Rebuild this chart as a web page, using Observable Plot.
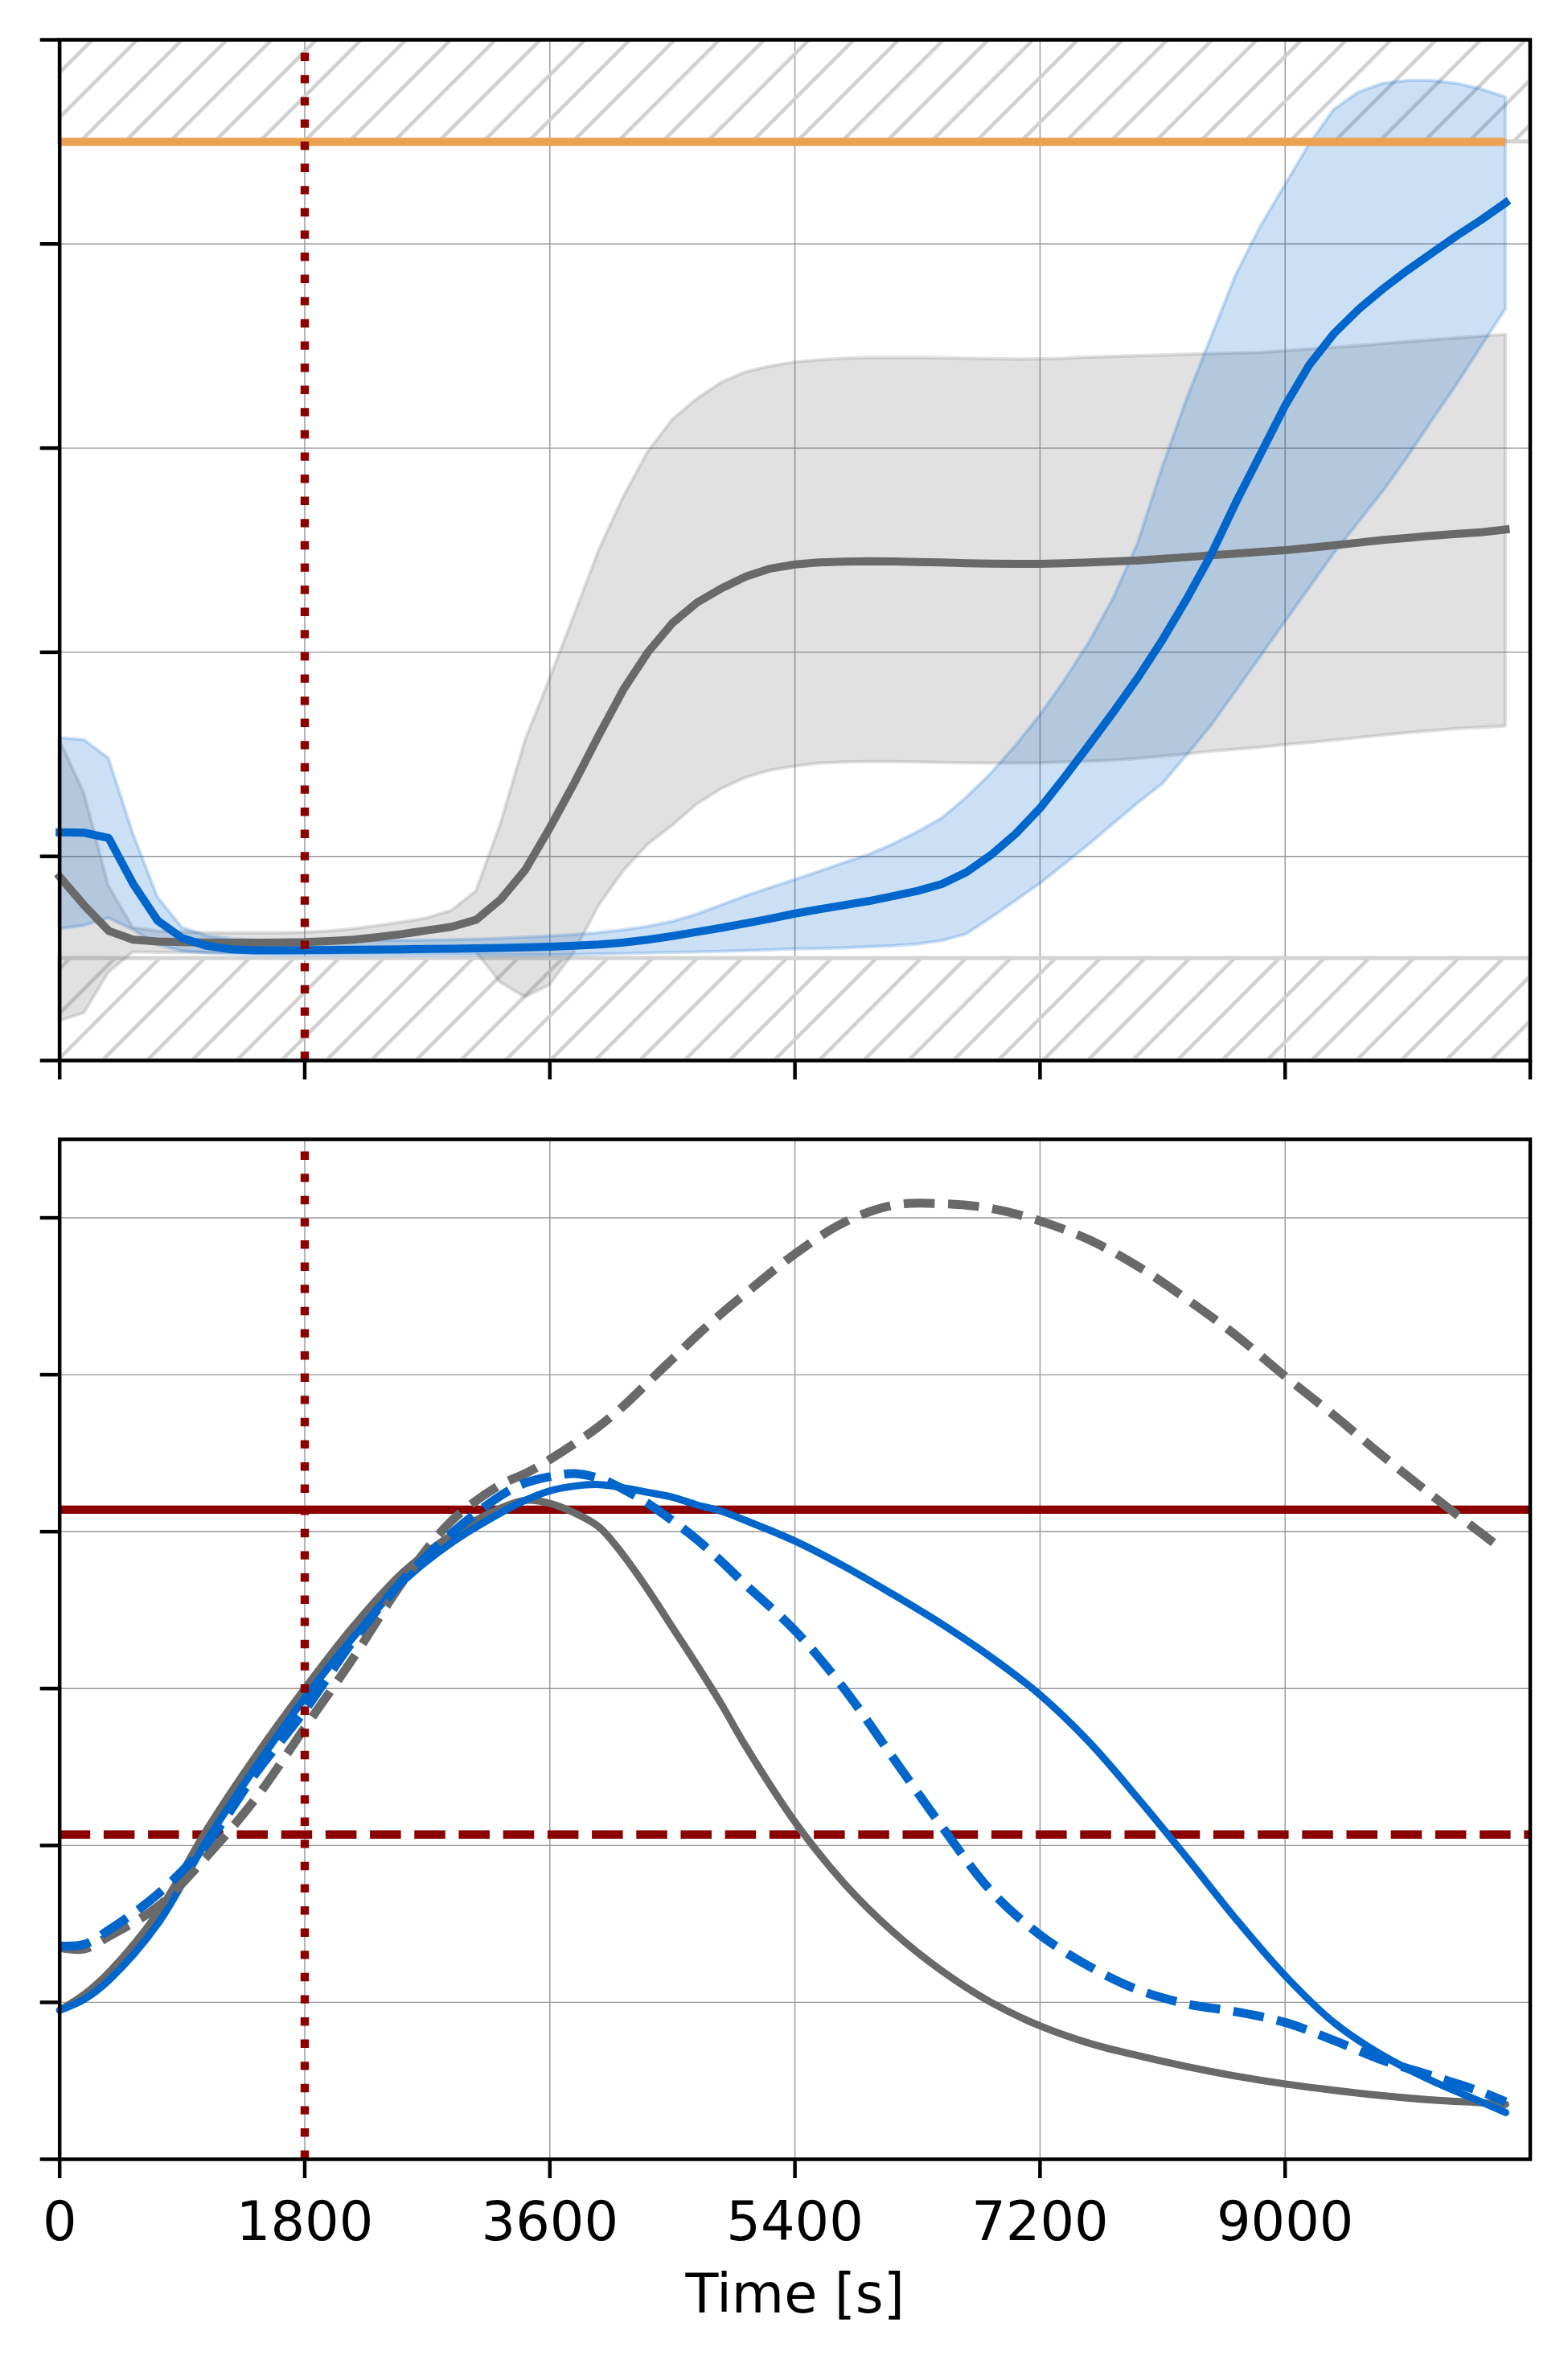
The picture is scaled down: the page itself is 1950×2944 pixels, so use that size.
<!DOCTYPE html>
<html>
<head>
<meta charset="utf-8">
<script src="https://cdn.jsdelivr.net/npm/d3@7"></script>
<script src="https://cdn.jsdelivr.net/npm/@observablehq/plot@0.6"></script>
<style>
  html, body { margin: 0; padding: 0; background: #ffffff; }
  #chart { width: 1950px; }
  #chart svg { display: block; }
</style>
</head>
<body>
<svg width="0" height="0" style="position:absolute">
  <defs>
    <pattern id="hatch" patternUnits="userSpaceOnUse" width="55.7" height="55.7">
      <path d="M-8,5.3 L5.3,-8 M-8,61 L61,-8 M45,63.7 L63.7,45" stroke="#d0d0d0" stroke-width="4.6" fill="none"/>
    </pattern>
  </defs>
</svg>
<div id="chart"></div>
<script>
// ---------- top panel data (sampled every 180 s) ----------
const times = [0,180,360,540,720,900,1080,1260,1440,1620,1800,1980,2160,2340,2520,2700,2880,3060,3240,3420,
  3600,3780,3960,4140,4320,4500,4680,4860,5040,5220,5400,5580,5760,5940,6120,6300,6480,6660,6840,7020,
  7200,7380,7560,7740,7920,8100,8280,8460,8640,8820,9000,9180,9360,9540,9720,9900,10080,10260,10440,10620];
const blueMean = [11.18,11.16,10.9,8.65,6.85,6.0,5.62,5.45,5.40,5.40,5.41,5.42,5.43,5.44,5.45,5.47,5.48,5.50,5.52,5.55,
  5.58,5.62,5.68,5.78,5.92,6.1,6.3,6.5,6.72,6.95,7.2,7.41,7.61,7.81,8.05,8.31,8.65,9.23,10.07,11.1,
  12.36,13.88,15.46,17.08,18.77,20.62,22.64,24.83,27.36,29.72,32.08,34.1,35.62,36.8,37.81,38.72,39.56,40.4,41.18,42.02];
const blueHigh = [15.8,15.7,14.8,11.1,8.0,6.5,6.1,5.95,5.88,5.85,5.85,5.85,5.85,5.86,5.87,5.88,5.9,5.93,5.97,6.02,
  6.08,6.15,6.25,6.38,6.55,6.8,7.15,7.6,8.05,8.45,8.85,9.25,9.67,10.07,10.58,11.18,11.86,12.87,14.05,15.4,
  16.9,18.6,20.45,22.64,25.34,29.05,32.41,35.45,38.48,40.84,42.87,44.89,46.57,47.42,47.85,47.99,47.99,47.85,47.58,47.18];
const blueLow = [6.45,6.6,6.97,6.4,5.66,5.35,5.25,5.2,5.17,5.15,5.15,5.15,5.15,5.15,5.15,5.15,5.15,5.15,5.15,5.15,
  5.16,5.17,5.2,5.22,5.25,5.28,5.3,5.33,5.36,5.4,5.45,5.47,5.5,5.55,5.6,5.69,5.85,6.19,6.97,7.81,
  8.65,9.6,10.57,11.59,12.6,13.54,14.96,16.41,18.09,19.78,21.47,23.15,24.83,26.35,27.87,29.55,31.34,33.09,34.95,36.8];
const grayMean = [9.0,7.6,6.35,5.92,5.83,5.8,5.78,5.77,5.77,5.78,5.8,5.85,5.92,6.05,6.2,6.38,6.55,6.9,7.9,9.35,
  11.4,13.6,15.94,18.17,20.0,21.43,22.43,23.13,23.71,24.1,24.3,24.4,24.44,24.46,24.45,24.42,24.4,24.36,24.34,24.33,
  24.33,24.36,24.4,24.45,24.5,24.58,24.66,24.75,24.83,24.92,25.0,25.12,25.24,25.37,25.5,25.6,25.71,25.8,25.88,26.01];
const grayHigh = [15.7,13.1,8.55,6.5,6.33,6.28,6.25,6.24,6.24,6.24,6.27,6.33,6.44,6.6,6.77,6.97,7.34,8.3,11.6,15.68,
  18.69,21.8,24.97,27.58,29.8,31.37,32.4,33.2,33.72,34.0,34.2,34.3,34.38,34.41,34.41,34.41,34.4,34.38,34.36,34.34,
  34.35,34.38,34.44,34.47,34.51,34.54,34.58,34.61,34.64,34.67,34.75,34.84,34.92,35.0,35.1,35.2,35.29,35.38,35.47,35.55];
const grayLow = [1.93,2.32,4.3,5.3,5.28,5.27,5.27,5.27,5.27,5.27,5.27,5.27,5.28,5.28,5.29,5.3,5.3,5.3,3.8,3.1,
  3.7,5.3,7.57,9.27,10.58,11.5,12.54,13.3,13.85,14.2,14.4,14.55,14.6,14.62,14.62,14.6,14.58,14.56,14.55,14.55,
  14.56,14.6,14.64,14.69,14.78,14.89,15.0,15.13,15.23,15.33,15.45,15.56,15.68,15.8,15.92,16.04,16.14,16.24,16.3,16.37];
const forbiddenLow = [0, 5];     // lower hatched band
const forbiddenHigh = [45, 50];  // upper hatched band
const upperLimit = 45;           // orange limit line

// ---------- bottom panel data ----------
const bTimes = [0,180,360,720,1080,1440,1800,2160,2520,2880,3240,3420,3600,3780,3960,4140,4320,4500,4680,4860,
  5040,5400,5760,6120,6480,6840,7200,7560,7920,8280,8640,9000,9360,9720,10080,10440,10620];
const graySolid = [0.95,1.05,1.19,1.57,2.1,2.57,3.0,3.4,3.74,3.98,4.15,4.2,4.18,4.12,4.03,3.85,3.63,3.39,3.15,2.9,
  2.63,2.15,1.76,1.45,1.2,1.0,0.85,0.74,0.66,0.59,0.53,0.48,0.44,0.405,0.378,0.36,0.35];
const blueSolid = [0.95,1.02,1.14,1.5,2.03,2.5,2.94,3.33,3.68,3.93,4.12,4.2,4.26,4.29,4.3,4.28,4.25,4.22,4.17,4.13,
  4.07,3.94,3.78,3.6,3.41,3.2,2.96,2.66,2.3,1.92,1.53,1.17,0.87,0.66,0.5,0.366,0.298];
const blueDashed = [1.36,1.37,1.46,1.69,2.01,2.46,2.86,3.31,3.69,3.99,4.23,4.31,4.35,4.37,4.34,4.27,4.18,4.07,3.95,3.81,
  3.66,3.37,3.0,2.56,2.12,1.71,1.43,1.23,1.08,0.99,0.94,0.872,0.757,0.63,0.532,0.43,0.366];
const grayDashedTimes = [0,180,360,720,1080,1440,1800,2160,2520,2880,3240,3420,3600,3780,3960,4140,4320,4500,4680,4860,
  5040,5400,5760,6120,6480,6840,7200,7560,7920,8280,8640,9000,9360,9720,10080,10440,10530];
const grayDashed = [1.35,1.34,1.42,1.61,1.93,2.3,2.75,3.2,3.68,4.07,4.3,4.37,4.46,4.56,4.67,4.8,4.95,5.1,5.25,5.39,
  5.52,5.77,5.97,6.08,6.09,6.06,5.98,5.86,5.69,5.48,5.25,4.99,4.74,4.48,4.23,3.99,3.93];
const solidThreshold = [4.14];
const dashedThreshold = [2.07];

// ---------- shared ----------
const eventTimes = [1800];
const xDomain = [0, 10800];
const topXTicks = [0,1800,3600,5400,7200,9000,10800];
const bottomXTicks = [0,1800,3600,5400,7200,9000];
const topYTicks = [0,10,20,30,40,50];
const bottomYTicks = [0,1,2,3,4,5,6];
const topYDomain = [0, 50];
const bottomYDomain = [0, 6.5];

const BLUE = "#0066cc", GRAY = "#696969", ORANGE = "#eca052", DARKRED = "#8b0000", GRID = "#969696", HATCH = "#d3d3d3";
const SPINE = 4.5, TICK = 24;

const topRows = times.map((t, i) => ({t, bm: blueMean[i], bl: blueLow[i], bh: blueHigh[i], gm: grayMean[i], gl: grayLow[i], gh: grayHigh[i]}));
const bands = [{lo: forbiddenLow[0], hi: forbiddenLow[1]}, {lo: forbiddenHigh[0], hi: forbiddenHigh[1]}];
const limitRows = [{v: upperLimit, t0: times[0], t1: times[times.length - 1]}];
const bottomRows = bTimes.map((t, i) => ({t, gs: graySolid[i], bs: blueSolid[i], bd: blueDashed[i]}));
const grayDashedRows = grayDashedTimes.map((t, i) => ({t, gd: grayDashed[i]}));

const common = {
  width: 1950,
  marginLeft: 73.7,
  marginRight: 47.5,
  style: {fontFamily: "DejaVu Sans", background: "#ffffff", color: "#000000"}
};

const topPlot = Plot.plot({
  ...common,
  height: 1366,
  marginTop: 49,
  marginBottom: 48,
  x: {domain: xDomain, axis: null},
  y: {domain: topYDomain, axis: null},
  marks: [
    Plot.gridX(topXTicks.slice(1, -1), {stroke: GRID, strokeOpacity: 1, strokeWidth: 1.4}),
    Plot.gridY(topYTicks.slice(1, -1), {stroke: GRID, strokeOpacity: 1, strokeWidth: 1.4}),
    Plot.barY(bands, {y1: "lo", y2: "hi", fill: "url(#hatch)", stroke: HATCH, strokeWidth: 5}),
    Plot.areaY(topRows, {x: "t", y1: "gl", y2: "gh", fill: GRAY, fillOpacity: 0.2, stroke: GRAY, strokeOpacity: 0.2, strokeWidth: 4.2}),
    Plot.areaY(topRows, {x: "t", y1: "bl", y2: "bh", fill: BLUE, fillOpacity: 0.2, stroke: BLUE, strokeOpacity: 0.2, strokeWidth: 4.2}),
    Plot.line(topRows, {x: "t", y: "gm", stroke: GRAY, strokeWidth: 10, strokeLinecap: "square"}),
    Plot.line(topRows, {x: "t", y: "bm", stroke: BLUE, strokeWidth: 10, strokeLinecap: "square"}),
    Plot.ruleY(limitRows, {y: "v", x1: "t0", x2: "t1", stroke: ORANGE, strokeWidth: 10.4}),
    Plot.ruleX(eventTimes, {x: d => d, y1: () => topYDomain[0], y2: () => topYDomain[1], stroke: DARKRED, strokeWidth: 10.4, strokeDasharray: "10.4,17.2", strokeLinecap: "butt"}),
    Plot.frame({stroke: "#000", strokeWidth: SPINE}),
    Plot.axisY(topYTicks, {tickSize: TICK, tickFormat: () => "", label: null, strokeWidth: SPINE, stroke: "#000"}),
    Plot.axisX(topXTicks, {tickSize: TICK, tickFormat: () => "", label: null, strokeWidth: SPINE, stroke: "#000"})
  ]
});

const dash = "38.5,16.7";
const bottomPlot = Plot.plot({
  ...common,
  height: 1578,
  marginTop: 50,
  marginBottom: 260,
  x: {domain: xDomain, axis: null},
  y: {domain: bottomYDomain, axis: null},
  marks: [
    Plot.gridX(bottomXTicks.slice(1), {stroke: GRID, strokeOpacity: 1, strokeWidth: 1.4}),
    Plot.gridY(bottomYTicks.slice(1), {stroke: GRID, strokeOpacity: 1, strokeWidth: 1.4}),
    Plot.ruleY(solidThreshold, {stroke: DARKRED, strokeWidth: 10.4}),
    Plot.ruleY(dashedThreshold, {stroke: DARKRED, strokeWidth: 10.4, strokeDasharray: dash, strokeLinecap: "butt"}),
    Plot.line(bottomRows, {x: "t", y: "gs", stroke: GRAY, strokeWidth: 9, curve: "catmull-rom"}),
    Plot.line(bottomRows, {x: "t", y: "bs", stroke: BLUE, strokeWidth: 9, curve: "catmull-rom"}),
    Plot.line(grayDashedRows, {x: "t", y: "gd", stroke: GRAY, strokeWidth: 11, strokeDasharray: dash, strokeLinecap: "butt", curve: "catmull-rom"}),
    Plot.line(bottomRows, {x: "t", y: "bd", stroke: BLUE, strokeWidth: 11, strokeDasharray: dash, strokeLinecap: "butt", curve: "catmull-rom"}),
    Plot.ruleX(eventTimes, {x: d => d, y1: () => bottomYDomain[0], y2: () => bottomYDomain[1], stroke: DARKRED, strokeWidth: 10.4, strokeDasharray: "10.4,17.2", strokeLinecap: "butt"}),
    Plot.frame({stroke: "#000", strokeWidth: SPINE}),
    Plot.axisY(bottomYTicks, {tickSize: TICK, tickFormat: () => "", label: null, strokeWidth: SPINE, stroke: "#000"}),
    Plot.axisX(bottomXTicks, {tickSize: TICK, tickPadding: 29, tickFormat: d => String(d), label: null, strokeWidth: SPINE, stroke: "#000", fontSize: 67, fill: "#000"}),
    Plot.text(["Time [s]"], {text: d => d, frameAnchor: "bottom", dy: 143, lineAnchor: "top", fontSize: 67, fill: "#000"})
  ]
});

const chart = document.getElementById("chart");
chart.appendChild(topPlot);
chart.appendChild(bottomPlot);
</script>
</body>
</html>
